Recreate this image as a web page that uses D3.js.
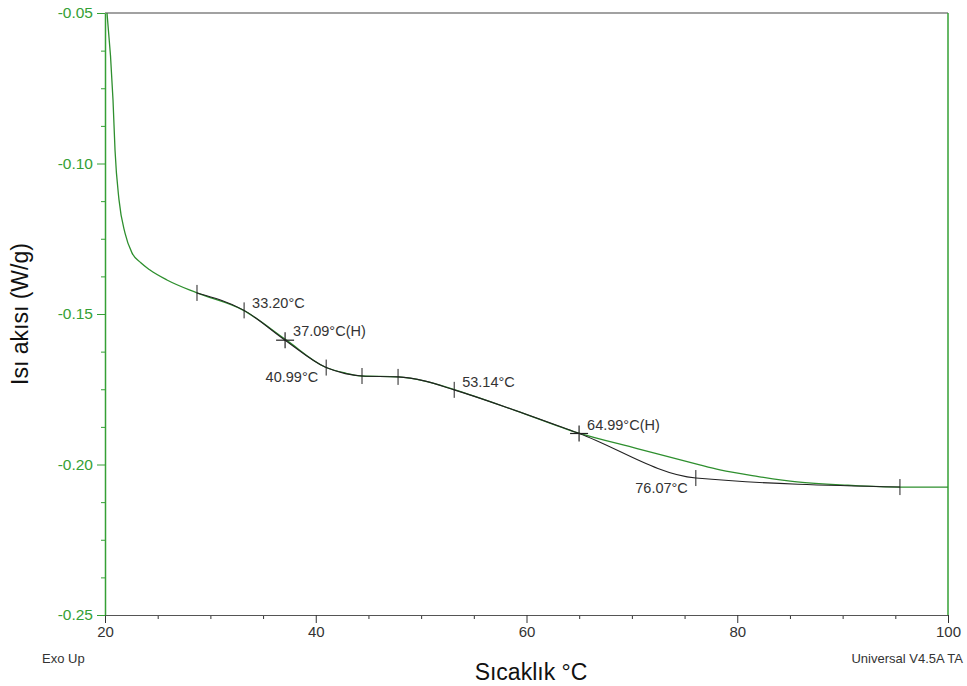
<!DOCTYPE html>
<html>
<head>
<meta charset="utf-8">
<script src="https://cdn.jsdelivr.net/npm/d3@7"></script>
<style>
  html, body { margin: 0; padding: 0; background: #fff; }
  svg text { font-family: "Liberation Sans", Arial, sans-serif; }
</style>
</head>
<body>
<svg id="chart" width="967" height="686"></svg>
<script>
// ---- data ----
const curveTemp = [20.19, 20.76, 20.95, 21.33, 21.90, 22.56, 23.4, 24.27, 25.88, 28.73, 33.10, 37.18, 40.88, 42.78, 44.39, 47.81, 50.37, 53.21, 58.9, 64.89, 70.5, 76.07, 78.36, 82.0, 85.67, 90.5, 95.44, 100];
const curveHF   = [-0.050, -0.0789, -0.0955, -0.1121, -0.1231, -0.1297, -0.1330, -0.1354, -0.1387, -0.1430, -0.1487, -0.1586, -0.1676, -0.1696, -0.1706, -0.1709, -0.1723, -0.1752, -0.1820, -0.1895, -0.1947, -0.1998, -0.2018, -0.2040, -0.2058, -0.2069, -0.2075, -0.2075];

const lineTemp = [28.73, 33.20, 37.09, 40.99, 42.8, 44.39, 47.81, 50.4, 53.14, 64.99, 76.07, 95.44];
const lineHF   = [-0.1430, -0.1488, -0.1587, -0.1678, -0.1698, -0.1706, -0.1709, -0.1723, -0.1752, -0.1897, -0.2045, -0.2075];

const tickMarkTemp  = [28.73, 33.20, 40.99, 44.39, 47.81, 53.14, 76.07, 95.44];
const tickMarkHF    = [-0.1430, -0.1488, -0.1678, -0.1706, -0.1709, -0.1752, -0.2045, -0.2075];
const crossMarkTemp = [37.09, 64.99];
const crossMarkHF   = [-0.1587, -0.1897];

const labelText = ["33.20°C", "37.09°C(H)", "40.99°C", "53.14°C", "64.99°C(H)", "76.07°C"];
const labelTemp = [33.20, 37.09, 40.99, 53.14, 64.99, 76.07];
const labelHF   = [-0.1488, -0.1587, -0.1678, -0.1752, -0.1897, -0.2045];
const labelSide = ["right", "right", "left", "right", "right", "left"];

const xTicks = [20, 40, 60, 80, 100];
const yTicks = [-0.05, -0.10, -0.15, -0.20, -0.25];

// ---- layout ----
const svg = d3.select("#chart");
const L = 105, R = 948, T = 13, B = 615;
const x = d3.scaleLinear().domain([20, 100]).range([L, R]);
const y = d3.scaleLinear().domain([-0.25, -0.05]).range([B, T]);
const green = "#35a035";
const curveGreen = "#2e8f2e";
const dark = "#333";

svg.append("defs").append("clipPath").attr("id", "clip")
  .append("rect").attr("x", L).attr("y", T).attr("width", R - L).attr("height", B - T);

// top border
svg.append("line").attr("x1", L).attr("x2", R).attr("y1", T).attr("y2", T)
  .attr("stroke", "#444").attr("stroke-width", 1.2);
// right border (green)
svg.append("line").attr("x1", R).attr("x2", R).attr("y1", T).attr("y2", B)
  .attr("stroke", green).attr("stroke-width", 1.5);

// x axis
const xMinor = d3.range(20, 100.1, 5).filter(v => v % 20 !== 0);
const gxm = svg.append("g").attr("transform", `translate(0,${B})`)
  .call(d3.axisBottom(x).tickValues(xMinor).tickSize(4).tickFormat(""));
gxm.select(".domain").remove();
gxm.selectAll("line").attr("stroke", dark);
const gx = svg.append("g").attr("transform", `translate(0,${B})`)
  .call(d3.axisBottom(x).tickValues(xTicks).tickSize(8).tickSizeOuter(0).tickFormat(d => String(d)));
gx.select(".domain").attr("stroke", "#555").attr("stroke-width", 1.2);
gx.selectAll("line").attr("stroke", dark);
gx.selectAll("text").attr("fill", dark).attr("font-size", 15).attr("dy", null).attr("y", 22);

// y axis
const yMinor = d3.range(0, 17).map(i => -0.25 + i * 0.0125).filter((v, i) => i % 4 !== 0);
const gym = svg.append("g").attr("transform", `translate(${L},0)`)
  .call(d3.axisLeft(y).tickValues(yMinor).tickSize(4).tickFormat(""));
gym.select(".domain").remove();
gym.selectAll("line").attr("stroke", green);
const gy = svg.append("g").attr("transform", `translate(${L},0)`)
  .call(d3.axisLeft(y).tickValues(yTicks).tickSize(8).tickSizeOuter(0).tickFormat(d => d.toFixed(2)));
gy.select(".domain").attr("stroke", green).attr("stroke-width", 1.5);
gy.selectAll("line").attr("stroke", green);
gy.selectAll("text").attr("fill", green).attr("font-size", 15.5).attr("x", -12);

// green curve
const pts = curveTemp.map((t, i) => [t, curveHF[i]]);
svg.append("path").datum(pts)
  .attr("clip-path", "url(#clip)")
  .attr("fill", "none").attr("stroke", curveGreen).attr("stroke-width", 1.3)
  .attr("d", d3.line().x(d => x(d[0])).y(d => y(d[1])).curve(d3.curveMonotoneX));

// black construction line
const lpts = lineTemp.map((t, i) => [t, lineHF[i]]);
svg.append("path").datum(lpts)
  .attr("fill", "none").attr("stroke", "#222").attr("stroke-width", 1.1)
  .attr("d", d3.line().x(d => x(d[0])).y(d => y(d[1])).curve(d3.curveMonotoneX));

// tick markers
tickMarkTemp.forEach((t, i) => {
  svg.append("line").attr("x1", x(t)).attr("x2", x(t))
    .attr("y1", y(tickMarkHF[i]) - 8).attr("y2", y(tickMarkHF[i]) + 8)
    .attr("stroke", "#222").attr("stroke-width", 1);
});
crossMarkTemp.forEach((t, i) => {
  const cx = x(t), cy = y(crossMarkHF[i]);
  svg.append("line").attr("x1", cx).attr("x2", cx).attr("y1", cy - 8).attr("y2", cy + 8)
    .attr("stroke", "#222").attr("stroke-width", 1.2);
  svg.append("line").attr("x1", cx - 9).attr("x2", cx + 9).attr("y1", cy).attr("y2", cy)
    .attr("stroke", "#222").attr("stroke-width", 1.2);
});

// labels
const labelDy = [-2, -4, 14, -3, -3, 15];
labelText.forEach((txt, i) => {
  const right = labelSide[i] === "right";
  svg.append("text")
    .attr("x", x(labelTemp[i]) + (right ? 8 : -8))
    .attr("y", y(labelHF[i]) + labelDy[i])
    .attr("text-anchor", right ? "start" : "end")
    .attr("font-size", 14.5).attr("fill", dark)
    .text(txt);
});

// axis titles
svg.append("text").attr("x", 531).attr("y", 680).attr("text-anchor", "middle")
  .attr("font-size", 23).attr("fill", "#111").text("Sıcaklık °C");
svg.append("text").attr("transform", `translate(28,${(T + B) / 2}) rotate(-90)`)
  .attr("text-anchor", "middle").attr("font-size", 23).attr("fill", "#111")
  .text("Isı akısı (W/g)");

// corner texts
svg.append("text").attr("x", 42).attr("y", 663).attr("font-size", 13).attr("fill", dark).text("Exo Up");
svg.append("text").attr("x", 963).attr("y", 663).attr("text-anchor", "end")
  .attr("font-size", 13).attr("fill", dark).text("Universal V4.5A TA");
</script>
</body>
</html>
